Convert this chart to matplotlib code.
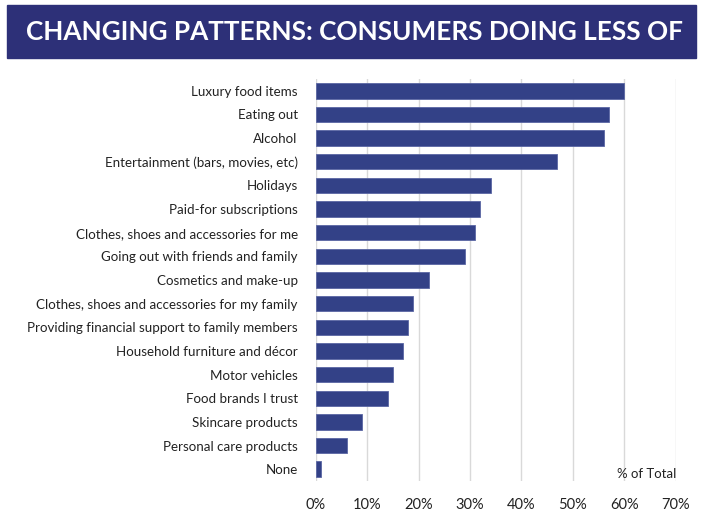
import numpy as np
import matplotlib.pyplot as plt
from matplotlib.patches import Rectangle

plt.rcParams['font.family'] = ['Lato', 'DejaVu Sans']

# share of consumers cutting back, by category
categories = ['Luxury food items', 'Eating out', 'Alcohol',
              'Entertainment (bars, movies, etc)', 'Holidays',
              'Paid-for subscriptions', 'Clothes, shoes and accessories for me',
              'Going out with friends and family', 'Cosmetics and make-up',
              'Clothes, shoes and accessories for my family',
              'Providing financial support to family members',
              'Household furniture and décor', 'Motor vehicles',
              'Food brands I trust', 'Skincare products',
              'Personal care products', 'None']
values = [60, 57, 56, 47, 34, 32, 31, 29, 22, 19, 18, 17, 15, 14, 9, 6, 1]
xticks = [0, 10, 20, 30, 40, 50, 60, 70]

bar_color = '#334187'
banner_color = '#2d3078'

fig = plt.figure(figsize=(7.02, 5.11), dpi=100)

# title banner
fig.patches.append(Rectangle((7/702, 1 - 58/511), 689/702, 53/511,
                             transform=fig.transFigure, color=banner_color, zorder=0))
fig.text(0.505, 1 - 32/511, 'CHANGING PATTERNS: CONSUMERS DOING LESS OF',
         ha='center', va='center', color='white', fontsize=18.8, fontweight='bold')

ax = fig.add_axes([315.7/702, 1 - 481/511, 360/702, 402/511])
y = np.arange(len(categories))
ax.barh(y, values, height=0.65, color=bar_color, edgecolor='#5a66a3', linewidth=0.6, zorder=3)
ax.set_xlim(0, 70)
ax.set_ylim(len(categories) - 0.5, -0.5)
ax.set_yticks(y)
ax.set_yticklabels(categories, fontsize=9.6, color='#222222')
ax.set_xticks(xticks)
ax.set_xticklabels([f'{t}%' for t in xticks], fontsize=10.5, color='#222222')
ax.tick_params(axis='y', length=0, pad=13)
ax.tick_params(axis='x', length=0, pad=12)
ax.grid(axis='x', color='#d9d9d9', linewidth=1, zorder=0)
for s in ax.spines.values():
    s.set_visible(False)

ax.text(0.92, 0.003, '% of Total', transform=ax.transAxes, ha='center', va='bottom',
        fontsize=9.5, color='#222222')

fig.savefig('out.png', dpi=100)
